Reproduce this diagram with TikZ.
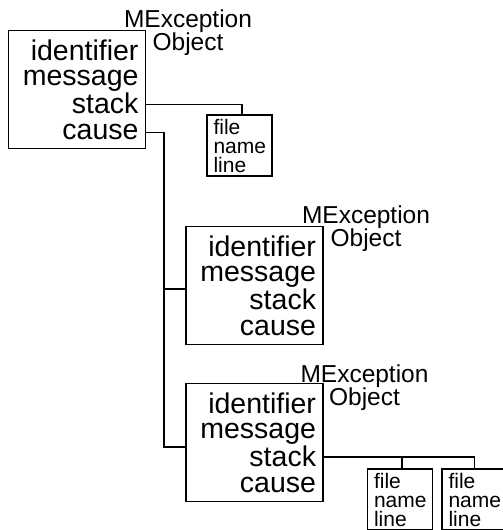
\documentclass[tikz,border=0pt]{standalone}
\usepackage{fontspec}
\setmainfont{Liberation Sans}
\begin{document}
\begin{tikzpicture}[x=1pt,y=-1pt,
  line width=1.9pt, line join=miter,
  mbox/.style={draw, rectangle, minimum width=137, minimum height=118,
    inner xsep=7pt, inner ysep=0pt, text width=123pt, align=right,
    font=\fontsize{28.5}{25.7}\selectfont},
  sbox/.style={draw, rectangle, minimum width=65, minimum height=61,
    inner xsep=6.5pt, inner ysep=0pt, text width=52pt, align=left,
    font=\fontsize{21}{19}\selectfont},
  ttl/.style={align=center, inner sep=0pt, font=\fontsize{24.5}{23}\selectfont}]
\useasboundingbox (0,0) rectangle (503,530);
% main boxes
\node[mbox] (box1) at (77,89.5) {identifier\\message\\stack\\cause};
\node[mbox] (box2) at (254.5,285.5) {identifier\\message\\stack\\cause};
\node[mbox] (box3) at (254.5,442.5) {identifier\\message\\stack\\cause};
% titles
\node[ttl] (t1) at (188,32.3) {MException\\Object};
\node[ttl] (t2) at (366,228.3) {MException\\Object};
\node[ttl] (t3) at (364.5,387.3) {MException\\Object};
% stack boxes
\node[sbox] (s1) at (239.5,145.5) {file\\name\\line};
\node[sbox] (s3a) at (400,499.5) {file\\name\\line};
\node[sbox] (s3b) at (474.5,499.5) {file\\name\\line};
% connectors
\coordinate (j) at (164,447);
\draw ([yshift=-15pt]box1.east) -| ([xshift=2.5pt]s1.north);
\draw ([yshift=-43pt]box1.east) -| (j) -- ([yshift=-4.5pt]box3.west);
\draw ([yshift=-3.5pt]box2.west) -| (j);
\draw ([yshift=-14.5pt]box3.east) -| ([xshift=2pt]s3a.north);
\draw ([yshift=-14.5pt]box3.east) -| (s3b.north);
\end{tikzpicture}
\end{document}
